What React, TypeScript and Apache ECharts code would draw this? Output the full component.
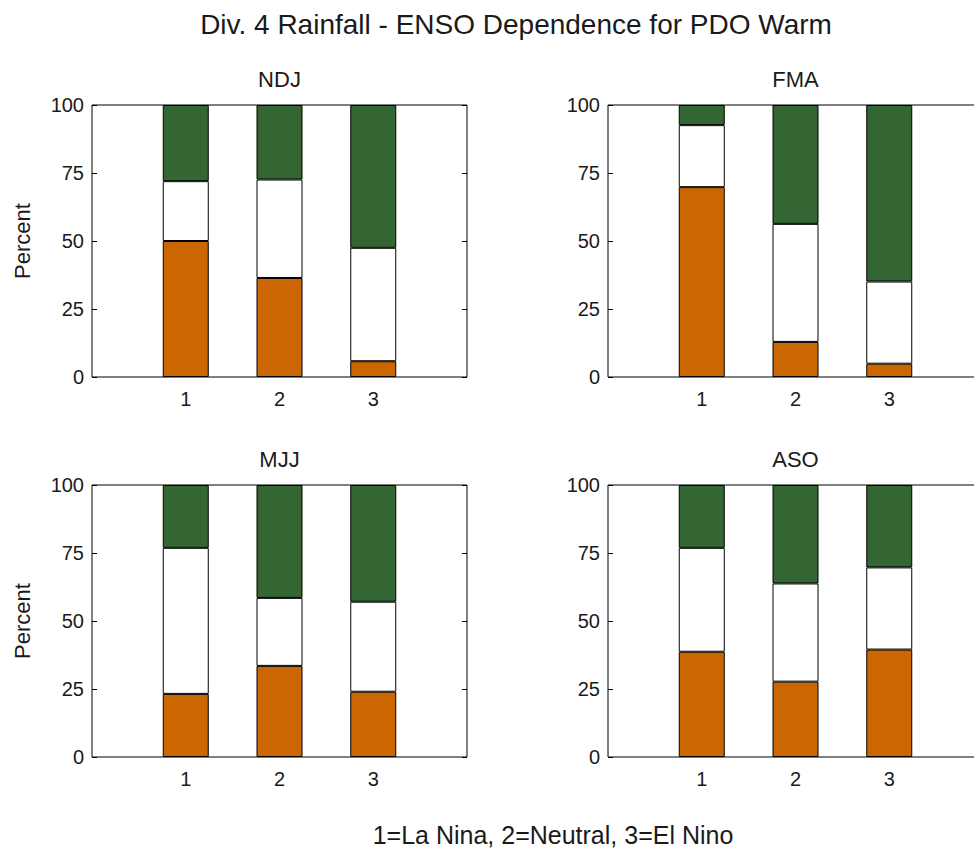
import React, { useEffect, useRef } from "react";
import * as echarts from "echarts";

const mainTitle = "Div. 4 Rainfall - ENSO Dependence for PDO Warm";
const xLabelText = "1=La Nina, 2=Neutral, 3=El Nino";
const panelTitles = ["NDJ", "FMA", "MJJ", "ASO"];
// x axis runs 0..4, bars at 1, 2, 3
const xCategories = ["0", "1", "2", "3", "4"];
const shownXLabels = ["1", "2", "3"];
const yTicks = [0, 25, 50, 75, 100];

// percent in each tercile per panel (NDJ, FMA, MJJ, ASO) for x = 1,2,3
const belowPct = [
  [50.0, 36.4, 5.8],
  [69.8, 12.9, 4.9],
  [23.2, 33.5, 24.0],
  [38.7, 27.7, 39.5],
];
const nearPct = [
  [22.0, 36.2, 41.7],
  [22.8, 43.4, 30.2],
  [53.7, 25.0, 33.1],
  [38.2, 36.1, 30.2],
];
const abovePct = [
  [28.0, 27.4, 52.5],
  [7.4, 43.7, 64.9],
  [23.1, 41.5, 42.9],
  [23.1, 36.2, 30.3],
];

const FONT = "'Liberation Sans', Arial, Helvetica, sans-serif";
const TXT = "#1a1a1a";
const colors = ["#CC6600", "#FFFFFF", "#336633"];

export default function App() {
  const ref = useRef<HTMLDivElement>(null);
  useEffect(() => {
    if (!ref.current) return;
    const chart = echarts.init(ref.current, null, { renderer: "svg" });

    const gridBoxes = [
      { left: 92, top: 105, width: 375, height: 272 },
      { left: 608, top: 105, width: 375, height: 272 },
      { left: 92, top: 485, width: 375, height: 272 },
      { left: 608, top: 485, width: 375, height: 272 },
    ];

    const grid = gridBoxes.map((g) => ({
      ...g,
      show: true,
      borderColor: "#000",
      borderWidth: 1,
      backgroundColor: "#fff",
      containLabel: false,
    }));

    const xAxis = gridBoxes.map((_, i) => ({
      type: "category",
      gridIndex: i,
      data: xCategories,
      boundaryGap: false,
      axisLine: { show: false },
      axisTick: { show: false },
      splitLine: { show: false },
      axisLabel: {
        margin: 12,
        fontSize: 20,
        fontFamily: FONT,
        color: TXT,
        interval: 0,
        formatter: (v: string) => (shownXLabels.includes(v) ? v : ""),
      },
    }));

    const yAxis: any[] = [];
    gridBoxes.forEach((_, i) => {
      const common = {
        type: "value",
        gridIndex: i,
        min: yTicks[0],
        max: yTicks[yTicks.length - 1],
        interval: 25,
        axisLine: { show: false },
        axisTick: { show: true, inside: true, length: 5, lineStyle: { color: "#000" } },
        splitLine: { show: false },
      };
      yAxis.push({
        ...common,
        position: "left",
        axisLabel: { margin: 8, fontSize: 20, fontFamily: FONT, color: TXT },
      });
      yAxis.push({ ...common, position: "right", axisLabel: { show: false } });
    });

    const series: any[] = [];
    const layers = [belowPct, nearPct, abovePct];
    gridBoxes.forEach((_, i) => {
      layers.forEach((layer, k) => {
        series.push({
          type: "bar",
          xAxisIndex: i,
          yAxisIndex: i * 2,
          stack: "p" + i,
          barWidth: 46,
          data: ["-", ...layer[i], "-"],
          itemStyle: { color: colors[k], borderColor: "#000", borderWidth: 1 },
          emphasis: { disabled: true },
        });
      });
    });

    const graphic: any[] = [
      {
        type: "text",
        x: 516,
        y: 24,
        style: { text: mainTitle, fontSize: 28, fontFamily: FONT, fill: TXT, align: "center", verticalAlign: "middle" },
      },
      {
        type: "text",
        x: 553,
        y: 835,
        style: { text: xLabelText, fontSize: 25, fontFamily: FONT, fill: TXT, align: "center", verticalAlign: "middle" },
      },
    ];
    gridBoxes.forEach((g, i) => {
      graphic.push({
        type: "text",
        x: g.left + g.width / 2,
        y: g.top - 26,
        style: { text: panelTitles[i], fontSize: 22, fontFamily: FONT, fill: TXT, align: "center", verticalAlign: "middle" },
      });
      if (i % 2 === 0) {
        graphic.push({
          type: "text",
          x: 22,
          y: g.top + g.height / 2,
          rotation: Math.PI / 2,
          style: { text: "Percent", fontSize: 22, fontFamily: FONT, fill: TXT, align: "center", verticalAlign: "middle" },
        });
      }
    });

    chart.setOption({
      animation: false,
      backgroundColor: "#fff",
      grid,
      xAxis,
      yAxis,
      series,
      graphic,
    });
    return () => chart.dispose();
  }, []);

  return (
    <div style={{ position: "absolute", left: 0, top: 0, width: 974, height: 848, overflow: "hidden" }}>
      <div ref={ref} style={{ width: 1000, height: 848 }} />
    </div>
  );
}
